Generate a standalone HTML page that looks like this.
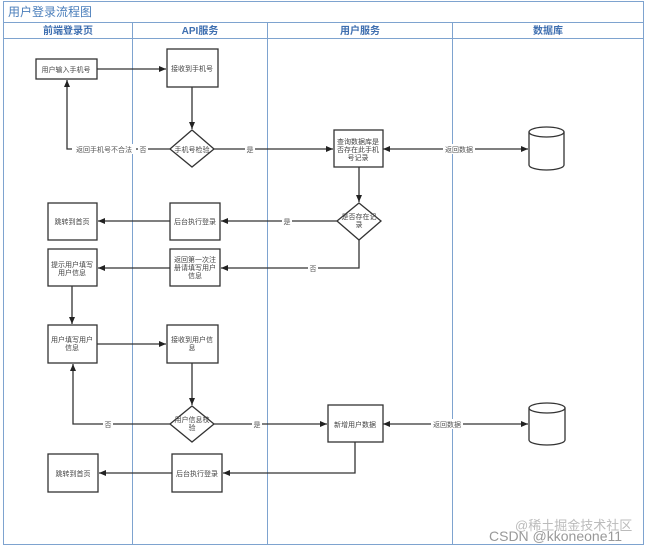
<!DOCTYPE html>
<html><head><meta charset="utf-8"><style>
body{margin:0;background:#fff;width:647px;height:548px;overflow:hidden}
svg text{font-family:"Liberation Sans","Noto Sans CJK SC",sans-serif}
</style></head><body>
<svg width="647" height="548" viewBox="0 0 647 548" xmlns="http://www.w3.org/2000/svg">
<defs><marker id="a" markerWidth="8" markerHeight="8" refX="7" refY="4" orient="auto" markerUnits="userSpaceOnUse"><path d="M0,1 L7,4 L0,7 Z" fill="#222"/></marker>
<marker id="s" markerWidth="8" markerHeight="8" refX="1" refY="4" orient="auto" markerUnits="userSpaceOnUse"><path d="M8,1 L1,4 L8,7 Z" fill="#222"/></marker></defs>
<g fill="none" stroke="#7ea3cf" stroke-width="1">
<rect x="3.5" y="1.5" width="640" height="543"/>
<line x1="3" y1="22.5" x2="644" y2="22.5"/>
<line x1="3" y1="38.5" x2="644" y2="38.5"/>
<line x1="132.5" y1="22" x2="132.5" y2="545"/>
<line x1="267.5" y1="22" x2="267.5" y2="545"/>
<line x1="452.5" y1="22" x2="452.5" y2="545"/>
</g>
<text x="8" y="16" font-size="12" fill="#4a7ebb">用户登录流程图</text>
<g font-size="10" font-weight="bold" fill="#3f6fb0" text-anchor="middle">
<text x="68" y="34">前端登录页</text><text x="200" y="34">API服务</text><text x="360" y="34">用户服务</text><text x="548" y="34">数据库</text></g>
<g fill="#fff" stroke="#333" stroke-width="1.3">
<rect x="36" y="59" width="61" height="20"/>
<rect x="167" y="49" width="51" height="38"/>
<path d="M192,130 L214,149 L192,167 L170,149 Z"/>
<rect x="334" y="130" width="49" height="37"/>
<path d="M359,203 L381,221 L359,240 L337,221 Z"/>
<rect x="48" y="203" width="49" height="37"/>
<rect x="170" y="203" width="50" height="37"/>
<rect x="48" y="249" width="49" height="37"/>
<rect x="170" y="249" width="50" height="37"/>
<rect x="48" y="325" width="49" height="38"/>
<rect x="167" y="325" width="51" height="38"/>
<path d="M192,406 L214,424 L192,442 L170,424 Z"/>
<rect x="328" y="405" width="55" height="37"/>
<rect x="48" y="454" width="50" height="38"/>
<rect x="172" y="454" width="50" height="38"/>
<path d="M529,132 v33 a17.5,5 0 0 0 35,0 v-33"/><ellipse cx="546.5" cy="132" rx="17.5" ry="5"/>
<path d="M529,408 v32 a18,5 0 0 0 36,0 v-32"/><ellipse cx="547" cy="408" rx="18" ry="5"/>
</g>
<g stroke="#333" stroke-width="1.3" fill="none" marker-end="url(#a)">
<line x1="97" y1="69" x2="166" y2="69"/>
<line x1="192" y1="87" x2="192" y2="129"/>
<polyline points="170,149 67,149 67,80"/>
<line x1="214" y1="149" x2="333" y2="149"/>
<line x1="383" y1="149" x2="528" y2="149" marker-start="url(#s)"/>
<line x1="359" y1="167" x2="359" y2="202"/>
<line x1="337" y1="221" x2="221" y2="221"/>
<line x1="170" y1="221" x2="98" y2="221"/>
<polyline points="359,240 359,268 221,268"/>
<line x1="170" y1="268" x2="98" y2="268"/>
<line x1="72" y1="286" x2="72" y2="324"/>
<line x1="97" y1="344" x2="166" y2="344"/>
<line x1="192" y1="363" x2="192" y2="405"/>
<polyline points="170,424 73,424 73,364"/>
<line x1="214" y1="424" x2="327" y2="424"/>
<line x1="383" y1="424" x2="528" y2="424" marker-start="url(#s)"/>
<polyline points="355,442 355,473 223,473"/>
<line x1="172" y1="473" x2="99" y2="473"/>
</g>
<g font-size="7" fill="#444" text-anchor="middle">
<text x="66" y="72">用户输入手机号</text>
<text x="192" y="71">接收到手机号</text>
<text x="192" y="152">手机号检验</text>
<text x="358" y="144">查询数据库是</text><text x="358" y="152">否存在此手机</text><text x="358" y="160">号记录</text>
<text x="359" y="219">是否存在记</text><text x="359" y="227">录</text>
<text x="72" y="224">跳转到首页</text>
<text x="195" y="224">后台执行登录</text>
<text x="72" y="267">提示用户填写</text><text x="72" y="275">用户信息</text>
<text x="195" y="262">返回第一次注</text><text x="195" y="270">册请填写用户</text><text x="195" y="278">信息</text>
<text x="72" y="342">用户填写用户</text><text x="72" y="350">信息</text>
<text x="192" y="342">接收到用户信</text><text x="192" y="350">息</text>
<text x="192" y="422">用户信息校</text><text x="192" y="430">验</text>
<text x="355" y="427">新增用户数据</text>
<text x="73" y="476">跳转到首页</text>
<text x="197" y="476">后台执行登录</text>
</g>
<g font-size="7" fill="#555" text-anchor="middle">
<rect x="72" y="144" width="64" height="10" fill="#fff"/><text x="104" y="152">返回手机号不合法</text>
<rect x="138" y="144" width="10" height="10" fill="#fff"/><text x="143" y="152">否</text>
<rect x="245" y="144" width="10" height="10" fill="#fff"/><text x="250" y="152">是</text>
<rect x="443" y="144" width="32" height="10" fill="#fff"/><text x="459" y="152">返回数据</text>
<rect x="282" y="216" width="10" height="10" fill="#fff"/><text x="287" y="224">是</text>
<rect x="308" y="263" width="10" height="10" fill="#fff"/><text x="313" y="271">否</text>
<rect x="103" y="419" width="10" height="10" fill="#fff"/><text x="108" y="427">否</text>
<rect x="252" y="419" width="10" height="10" fill="#fff"/><text x="257" y="427">是</text>
<rect x="431" y="419" width="32" height="10" fill="#fff"/><text x="447" y="427">返回数据</text>
</g>
<text x="515" y="530" font-size="13" fill="#bbb">@稀土掘金技术社区</text>
<text x="489" y="541" font-size="14" fill="#999">CSDN @kkoneone11</text>
</svg>
</body></html>
